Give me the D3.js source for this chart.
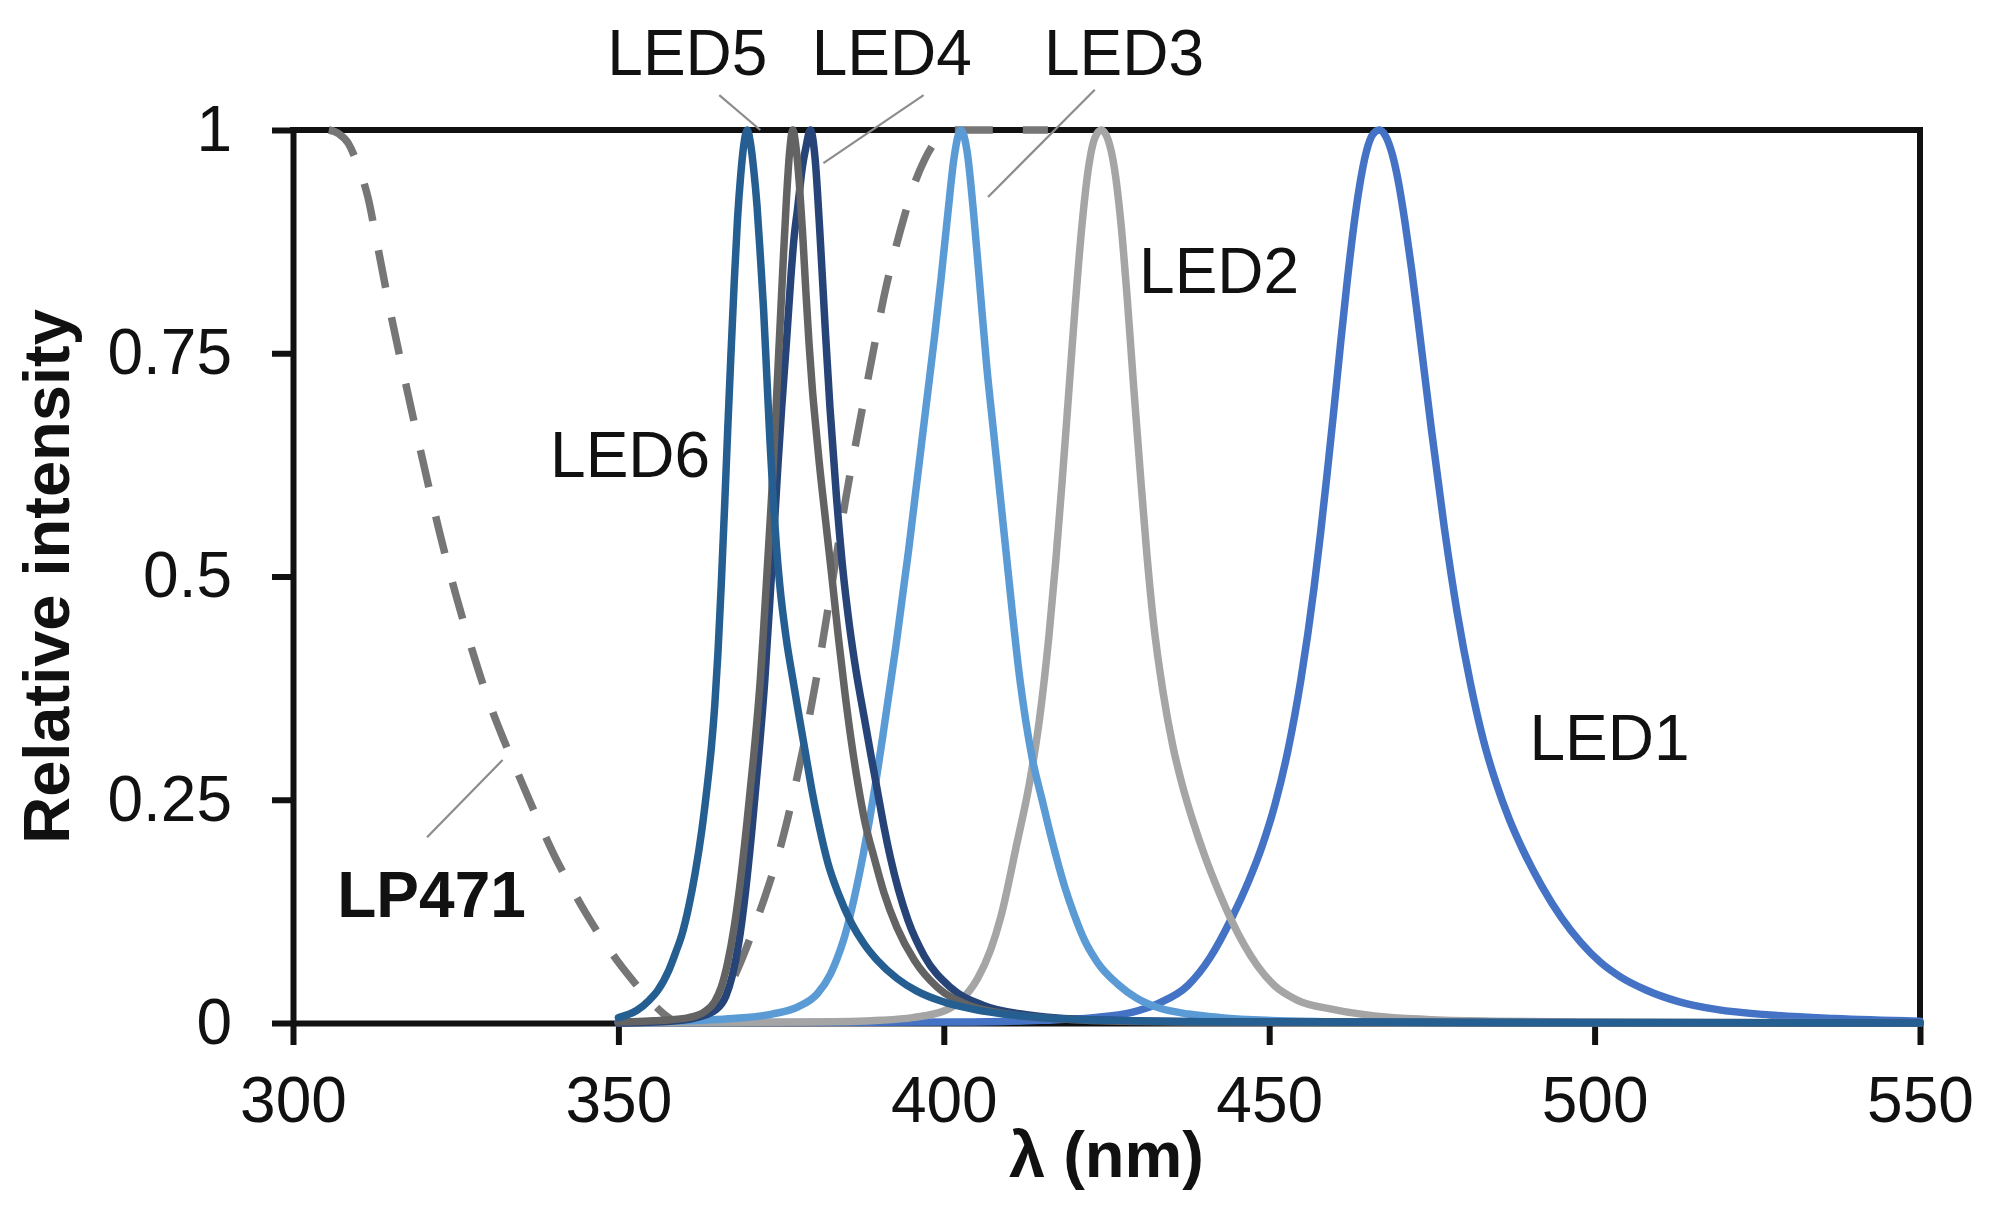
<!DOCTYPE html>
<html>
<head>
<meta charset="utf-8">
<script src="https://cdn.jsdelivr.net/npm/d3@7"></script>
<style>
  html, body { margin: 0; padding: 0; background: #fff; overflow: hidden; }
  svg { display: block; }
  text { font-family: "Liberation Sans", Arial, Helvetica, sans-serif; fill: #111; }
</style>
</head>
<body>
<svg id="chart" width="1989" height="1209"></svg>
<script>
// ---------- data (wavelength in nm, relative intensity) ----------
const led1 = [[350,0],[401.9,0.001],[414.9,0.003],[422.9,0.006],[428.9,0.012],[433,0.022],[437.5,0.042],[440.9,0.073],[444.2,0.117],[446.9,0.16],[448.9,0.198],[450.9,0.245],[452.9,0.306],[454.9,0.386],[456.9,0.488],[457.9,0.549],[458.9,0.615],[459.9,0.684],[460.9,0.756],[461.9,0.825],[462.9,0.887],[463.9,0.938],[464.9,0.975],[465.9,0.995],[466.9,1],
  [467.9,0.993],[468.9,0.973],[469.9,0.94],[470.9,0.895],[471.9,0.843],[472.9,0.785],[474.9,0.666],[476.9,0.555],[478.9,0.459],[480.9,0.381],[482.9,0.317],[484.9,0.268],[486.9,0.228],[488.9,0.195],[491.9,0.153],[494.9,0.118],[497.9,0.09],[500.9,0.068],[503.9,0.052],[507.9,0.037],[512.9,0.024],[518.9,0.015],[526.9,0.009],[536.9,0.005],[550,0.002]];

const led2 = [[350,0],[380.2,0.001],[390.2,0.003],[395.2,0.006],[400.2,0.014],[402.7,0.026],[405.2,0.05],[407.2,0.082],[408.8,0.12],[411.2,0.2],[413.2,0.27],[414.7,0.34],[416.2,0.437],[417.2,0.517],[418.2,0.608],[419.2,0.706],[420.2,0.804],[421.2,0.891],[422.2,0.956],[423.2,0.991],[424.2,1],
  [425.2,0.99],[426.2,0.958],[427.2,0.897],[428.2,0.81],[429.2,0.71],[430.2,0.615],[431.2,0.525],[432.2,0.45],[433.7,0.37],[435.2,0.31],[436.7,0.265],[438.2,0.228],[440.2,0.185],[442.2,0.148],[444.2,0.115],[446.2,0.087],[448.2,0.064],[450.8,0.042],[454.2,0.026],[460,0.015],[466.2,0.008],[474.2,0.004],[484.2,0.002],[499.2,0.001],[550,0]];

const led3 = [[350,0.001],[357.6,0.002],[367.6,0.005],[373.6,0.01],[377.6,0.018],[380.6,0.033],[382.6,0.055],[383.6,0.072],[384.6,0.093],[385.6,0.12],[386.6,0.152],[387.6,0.188],[388.6,0.228],[389.6,0.272],[390.6,0.32],[391.6,0.37],[392.6,0.42],[393.6,0.475],[394.6,0.53],[395.6,0.59],[396.6,0.65],[397.6,0.71],[398.6,0.77],[399.6,0.835],[400.6,0.905],[401.6,0.97],[402.6,1],
  [403.6,0.975],[404.6,0.905],[405.6,0.82],[406.6,0.735],[407.6,0.665],[408.6,0.595],[409.6,0.525],[410.6,0.455],[411.6,0.39],[412.6,0.338],[413.6,0.296],[415.1,0.25],[416.6,0.205],[418.6,0.152],[420,0.122],[421.6,0.093],[423.6,0.068],[426.8,0.043],[429.6,0.028],[433,0.017],[437.6,0.01],[442.6,0.006],[449.6,0.003],[459.6,0.0015],[472.6,0.0005],[550,0]];

const led4 = [[350,0],[358,0.002],[362,0.006],[365,0.015],[366.5,0.03],[367.5,0.053],[368.5,0.09],[369.5,0.145],[370.5,0.215],[371.5,0.295],[372.5,0.384],[373.5,0.5],[374.5,0.623],[375.1,0.69],[375.8,0.76],[376.5,0.835],[377,0.88],[377.5,0.91],[378.3,0.96],[378.8,0.98],[379.5,1],
  [380.2,0.97],[381,0.88],[381.8,0.775],[382.5,0.69],[383.5,0.59],[384.5,0.507],[385.5,0.445],[386.5,0.395],[387.7,0.345],[388.8,0.3],[389.8,0.26],[390.8,0.22],[391.8,0.185],[393,0.15],[394.5,0.115],[397,0.075],[401,0.04],[406,0.02],[413,0.009],[425,0.003],[450,0.001],[550,0]];

const led5 = [[350,0.001],[356.8,0.003],[360.8,0.006],[363.3,0.013],[364.8,0.024],[365.8,0.04],[366.8,0.068],[367.8,0.108],[368.8,0.162],[369.8,0.228],[370.8,0.3],[371.8,0.384],[372.3,0.44],[372.8,0.5],[373.3,0.56],[373.8,0.623],[374.3,0.7],[374.8,0.775],[375.3,0.85],[375.8,0.92],[376.3,0.975],[376.8,1],
  [377.3,0.98],[377.8,0.94],[378.3,0.885],[378.8,0.82],[379.3,0.76],[379.8,0.71],[380.3,0.67],[380.8,0.632],[381.8,0.565],[382.8,0.5],[383.8,0.432],[384.8,0.37],[385.8,0.315],[386.8,0.268],[387.8,0.228],[389.3,0.185],[390.8,0.146],[392.8,0.107],[395.5,0.07],[399,0.04],[403.8,0.02],[409.8,0.01],[416.8,0.005],[426.8,0.002],[439.8,0.001],[550,0]];

const led6 = [[350,0.006],[352.8,0.014],[354.8,0.026],[356,0.036],[357.8,0.06],[358.8,0.079],[359.8,0.1],[360.8,0.13],[361.8,0.168],[362.8,0.215],[363.8,0.275],[364.3,0.31],[364.8,0.355],[365.3,0.415],[365.8,0.49],[366.3,0.575],[366.8,0.665],[367.3,0.75],[367.8,0.83],[368.3,0.9],[368.8,0.95],[369.3,0.985],[369.8,1],
  [370.3,0.985],[370.8,0.955],[371.3,0.915],[371.8,0.86],[372.3,0.8],[372.8,0.725],[373.3,0.65],[373.8,0.585],[374.3,0.532],[374.8,0.49],[375.8,0.43],[376.8,0.385],[377.8,0.342],[378.8,0.3],[379.8,0.258],[380.8,0.222],[382.2,0.179],[383.8,0.145],[385.8,0.112],[387.8,0.088],[389.8,0.07],[392.8,0.05],[395.8,0.036],[399.8,0.024],[404.8,0.015],[411.8,0.008],[424.8,0.003],[449.8,0.001],[550,0]];

// dashed filter curves
const lp471 = [[305.5,1],[307,0.996],[308.5,0.985],[310,0.96],[311.5,0.925],[313,0.87],[315,0.795],[317.5,0.71],[320,0.628],[322.5,0.55],[325,0.48],[327.5,0.418],[330,0.362],[332.5,0.315],[335,0.272],[337.5,0.23],[340,0.19],[342.5,0.155],[345,0.123],[347.5,0.094],[350,0.068],[352.5,0.045],[355,0.024],[357,0.01],[359,0]];
const filterEdge = [[361,0],[363,0.006],[365,0.018],[367,0.04],[369,0.072],[371,0.11],[373,0.152],[375,0.2],[377,0.26],[379,0.33],[381,0.41],[383,0.5],[385,0.59],[386.5,0.65],[388,0.708],[389.5,0.765],[391,0.82],[392.5,0.865],[394,0.905],[395.5,0.94],[397,0.966],[398.5,0.985],[400,0.996],[401.5,1],[416,1]];

const seriesNames = ["LED1","LED2","LED3","LED4","LED5","LED6"];
const seriesData  = [led1, led2, led3, led4, led5, led6];
const seriesColors = ["#4472C4","#A5A5A5","#5B9BD5","#264478","#636363","#255E91"];

const xTicks = [300,350,400,450,500,550];
const yTicks = [0,0.25,0.5,0.75,1];
const yTickLabels = ["0","0.25","0.5","0.75","1"];

// labels (data coordinates: wavelength, intensity of baseline)
const labelNames = ["LED5","LED4","LED3","LED2","LED6","LED1","LP471"];
const labelX = [348.3,379.7,415.4,430.0,339.5,490.0,306.8];
const labelY = [1.0616,1.0616,1.0616,0.8175,0.611,0.2945,0.1187];
const labelBold = [false,false,false,false,false,false,true];

// leader lines (x1,y1,x2,y2 in data coordinates)
const leaders = [
  [365.5,1.039,371.8,1.0],
  [396.9,1.039,381.5,0.963],
  [423.2,1.045,406.8,0.925],
  [320.6,0.208,332.2,0.2945]
];

// ---------- chart ----------
const W = 1989, H = 1209;
const margin = {left: 293, right: 69, top: 130, bottom: 186};
const svg = d3.select("#chart");
svg.append("rect").attr("width", W).attr("height", H).attr("fill", "#fff");

const x = d3.scaleLinear().domain([300,550]).range([margin.left, W - margin.right]);
const y = d3.scaleLinear().domain([0,1]).range([H - margin.bottom, margin.top]);

const axisColor = "#111";
const axisW = 6;

// x axis
const gx = svg.append("g").attr("transform", `translate(0,${y(0)})`)
  .call(d3.axisBottom(x).tickValues(xTicks).tickFormat(d3.format("d"))
    .tickSize(22).tickSizeOuter(0).tickPadding(32));
// y axis
const gy = svg.append("g").attr("transform", `translate(${x(300)},0)`)
  .call(d3.axisLeft(y).tickValues(yTicks).tickFormat((d,i) => yTickLabels[i])
    .tickSize(21).tickSizeOuter(0).tickPadding(40));

[gx, gy].forEach(g => {
  g.select(".domain").attr("stroke", axisColor).attr("stroke-width", axisW);
  g.selectAll(".tick line").attr("stroke", axisColor).attr("stroke-width", axisW);
  g.selectAll(".tick text").attr("font-size", 64).attr("fill", "#111")
    .style("font-family", '"Liberation Sans", Arial, sans-serif');
});

// frame top and right
svg.append("line").attr("x1", x(300) - axisW/2).attr("x2", x(550) + axisW/2)
  .attr("y1", y(1)).attr("y2", y(1)).attr("stroke", axisColor).attr("stroke-width", axisW);
svg.append("line").attr("x1", x(550)).attr("x2", x(550))
  .attr("y1", y(1)).attr("y2", y(0)).attr("stroke", axisColor).attr("stroke-width", axisW);

// curves
const line = d3.line().x(d => x(d[0])).y(d => y(d[1])).curve(d3.curveMonotoneX);

[lp471, filterEdge].forEach(s => {
  svg.append("path").datum(s).attr("d", line).attr("fill", "none")
    .attr("stroke", "#767676").attr("stroke-width", 7.5)
    .attr("stroke-dasharray", "38,30").attr("stroke-linejoin", "round");
});

seriesData.forEach((s, i) => {
  svg.append("path").datum(s).attr("d", line).attr("fill", "none")
    .attr("stroke", seriesColors[i]).attr("stroke-width", 7.5)
    .attr("stroke-linejoin", "round").attr("stroke-linecap", "round")
    .attr("class", "series-" + seriesNames[i]);
});

// leader lines
leaders.forEach(l => {
  svg.append("line").attr("x1", x(l[0])).attr("y1", y(l[1]))
    .attr("x2", x(l[2])).attr("y2", y(l[3]))
    .attr("stroke", "#8c8c8c").attr("stroke-width", 2.2);
});

// labels
labelNames.forEach((t, i) => {
  svg.append("text").attr("x", x(labelX[i])).attr("y", y(labelY[i]))
    .attr("font-size", 64).attr("font-weight", labelBold[i] ? "bold" : "normal")
    .attr("text-anchor", "start").text(t);
});

// axis titles
svg.append("text").attr("transform", `translate(69,${(y(0)+y(1))/2}) rotate(-90)`)
  .attr("text-anchor", "middle").attr("font-size", 65).attr("font-weight", "bold")
  .text("Relative intensity");
svg.append("text").attr("x", (x(300)+x(550))/2).attr("y", 1177)
  .attr("text-anchor", "middle").attr("font-size", 65).attr("font-weight", "bold")
  .text("λ (nm)");
</script>
</body>
</html>
